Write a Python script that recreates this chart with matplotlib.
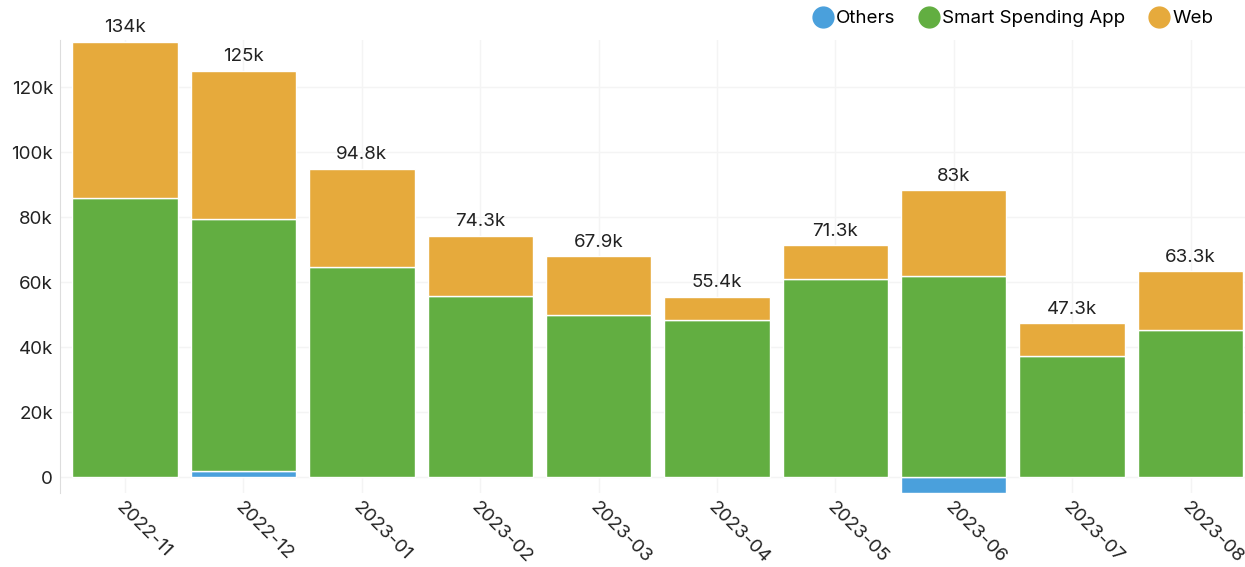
import matplotlib.pyplot as plt
from matplotlib.ticker import FuncFormatter
from matplotlib.lines import Line2D
import numpy as np

months = ["2022-11", "2022-12", "2023-01", "2023-02", "2023-03",
          "2023-04", "2023-05", "2023-06", "2023-07", "2023-08"]
# values in thousands
others = [0, 2.0, 0, 0, 0, 0, 0, -4.9, 0, 0]
app = [85.8, 77.4, 64.6, 55.7, 49.8, 48.3, 60.9, 61.8, 37.2, 45.2]
web = [48.2, 45.6, 30.2, 18.6, 18.1, 7.1, 10.4, 26.5, 10.1, 18.1]
total_labels = ["134k", "125k", "94.8k", "74.3k", "67.9k",
                "55.4k", "71.3k", "83k", "47.3k", "63.3k"]

c_others = "#4AA0DC"
c_app = "#62AE41"
c_web = "#E6AA3C"

plt.rcParams['font.family'] = ['Inter', 'DejaVu Sans']
fs = 13.5

fig = plt.figure(figsize=(12.45, 5.67), dpi=100)
ax = fig.add_axes([60 / 1245, 74 / 567, 1185 / 1245, 453 / 567])

x = np.arange(len(months))
o = np.array(others) * 1000
a = np.array(app) * 1000
w = np.array(web) * 1000
base = np.maximum(o, 0)

bw = 0.89
ax.bar(x, o, bw, color=c_others, edgecolor="white", linewidth=1, zorder=2)
ax.bar(x, a, bw, bottom=base, color=c_app, edgecolor="white", linewidth=1, zorder=2)
ax.bar(x, w, bw, bottom=base + a, color=c_web, edgecolor="white", linewidth=1, zorder=2)

tops = base + a + w
for xi, t, lab in zip(x, tops, total_labels):
    ax.annotate(lab, (xi, t), xytext=(0, 4), textcoords="offset points",
                ha="center", va="bottom", fontsize=fs, color="#222222")

ax.set_xlim(-0.55, 9.46)
ax.set_ylim(-4900, 134500)
ax.set_yticks([0, 20000, 40000, 60000, 80000, 100000, 120000])
ax.yaxis.set_major_formatter(FuncFormatter(lambda v, p: "0" if v == 0 else f"{v/1000:.0f}k"))
ax.set_xticks(x)
ax.set_xticklabels(months, rotation=-45, ha="left", va="top", rotation_mode="anchor")
for lab in ax.get_xticklabels():
    lab.set_fontsize(fs)
for lab in ax.get_yticklabels():
    lab.set_fontsize(fs)
ax.tick_params(axis="both", length=0, colors="#222222")
ax.tick_params(axis="y", pad=5)
ax.tick_params(axis="x", pad=4)

ax.grid(True, color="#f4f4f4", linewidth=1, zorder=0)
ax.set_axisbelow(True)
for s in ["top", "right", "bottom"]:
    ax.spines[s].set_visible(False)
ax.spines["left"].set_color("#dddddd")

handles = [Line2D([], [], marker="o", linestyle="", markersize=15, color=c)
           for c in [c_others, c_app, c_web]]
fig.legend(handles, ["Others", "Smart Spending App", "Web"], loc="upper right",
           bbox_to_anchor=(0.988, 1.012), ncol=3, frameon=False, fontsize=fs,
           handletextpad=0.1, columnspacing=1.2, handlelength=1.2)

fig.savefig("out.png", dpi=100)
